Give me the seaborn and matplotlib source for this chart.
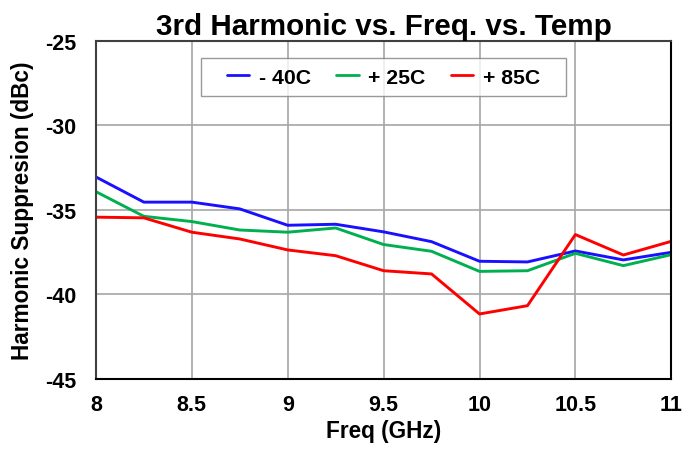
import numpy as np
import pandas as pd
import matplotlib
matplotlib.use('Agg')
import matplotlib.pyplot as plt
from matplotlib.path import Path
import seaborn as sns

freq = [8, 8.25, 8.5, 8.75, 9, 9.25, 9.5, 9.75, 10, 10.25, 10.5, 10.75, 11]
m40 = [-33.05, -34.54, -34.54, -34.94, -35.91, -35.85, -36.3, -36.88, -38.04, -38.08, -37.43, -37.96, -37.51]
p25 = [-33.92, -35.38, -35.69, -36.19, -36.32, -36.07, -37.05, -37.45, -38.64, -38.6, -37.57, -38.3, -37.65]
p85 = [-35.43, -35.47, -36.32, -36.72, -37.37, -37.71, -38.6, -38.79, -41.16, -40.67, -36.46, -37.67, -36.86]
labels = ['- 40C', '+ 25C', '+ 85C']
colors = ['#1a10ff', '#00b050', '#ff0000']

df = pd.DataFrame({'freq': freq * 3,
                   'val': m40 + p25 + p85,
                   'temp': [labels[0]] * len(freq) + [labels[1]] * len(freq) + [labels[2]] * len(freq)})

sns.set_style('white')
plt.rcParams['font.family'] = ['Liberation Sans', 'DejaVu Sans']
plt.rcParams['font.weight'] = 'bold'
plt.rcParams['axes.unicode_minus'] = False
plt.rcParams['text.color'] = 'black'
plt.rcParams['axes.labelcolor'] = 'black'
plt.rcParams['xtick.color'] = 'black'
plt.rcParams['ytick.color'] = 'black'

fig = plt.figure(figsize=(7, 4.56), dpi=100)
ax = fig.add_axes([0.137, 0.167, 0.822, 0.741])

sns.lineplot(data=df, x='freq', y='val', hue='temp', palette=colors, linewidth=2.1, ax=ax)

ax.set_xlim(8, 11)
ax.set_ylim(-45, -25)
ax.set_xticks([8, 8.5, 9, 9.5, 10, 10.5, 11])
ax.set_xticklabels(['8', '8.5', '9', '9.5', '10', '10.5', '11'])
ax.set_yticks([-45, -40, -35, -30, -25])
ax.grid(True, color='#a6a6a6', linewidth=1.2)
ax.tick_params(axis='x', length=0, labelsize=15.5, pad=11)
ax.tick_params(axis='y', length=0, labelsize=15.5, pad=14)
for lbl in ax.get_xticklabels() + ax.get_yticklabels():
    lbl.set_fontweight('bold')

ax.spines['left'].set_color('#404040')
ax.spines['top'].set_color('#404040')
ax.spines['right'].set_color('black')
ax.spines['bottom'].set_color('black')
for s in ax.spines.values():
    s.set_linewidth(1.5)

ax.set_xlabel('Freq (GHz)', fontsize=16.3, fontweight='bold', labelpad=3)
ax.set_ylabel('Harmonic Suppresion (dBc)', fontsize=16.3, fontweight='bold', labelpad=8)
ax.set_title('3rd Harmonic vs. Freq. vs. Temp', fontsize=21.3, fontweight='bold', pad=5)

leg = ax.legend(loc='upper center', ncol=3, frameon=True, fancybox=False,
                handlelength=1.05, handletextpad=0.45, columnspacing=1.2, borderpad=0.45,
                bbox_to_anchor=(0.5, 0.98), prop={'weight': 'bold', 'size': 15.3})


# wider frame sideways than top/bottom, like the original
def wide_box(x0, y0, width, height, mutation_size):
    px = 16
    return Path([(x0 - px, y0), (x0 + width + px, y0), (x0 + width + px, y0 + height),
                 (x0 - px, y0 + height), (x0 - px, y0)], closed=True)


leg.get_frame().set_boxstyle(wide_box)
leg.get_frame().set_edgecolor('#808080')
leg.get_frame().set_linewidth(1)
for h in leg.get_lines():
    h.set_linewidth(2)

fig.savefig('out.png', dpi=100)
